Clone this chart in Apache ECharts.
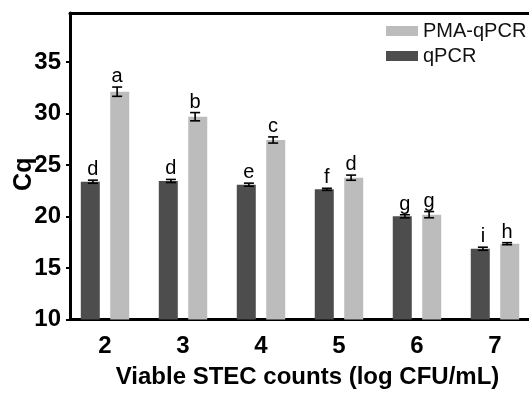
<!DOCTYPE html>
<html>
<head>
<meta charset="utf-8">
<script src="https://cdn.jsdelivr.net/npm/echarts@6/dist/echarts.min.js"></script>
<style>html,body{margin:0;padding:0;background:#fff;}#c{width:529px;height:394px;}</style>
</head>
<body>
<div id="c"></div>
<script>
const categories = [2, 3, 4, 5, 6, 7];
const qpcr = [23.38, 23.45, 23.09, 22.64, 20.02, 16.87];
const qpcrSD = [0.15, 0.15, 0.15, 0.1, 0.15, 0.15];
const qpcrLetters = ['d', 'd', 'e', 'f', 'g', 'i'];
const pma = [32.12, 29.69, 27.43, 23.77, 20.18, 17.36];
const pmaSD = [0.45, 0.4, 0.3, 0.25, 0.3, 0.1];
const pmaLetters = ['a', 'b', 'c', 'd', 'g', 'h'];
const yTicks = [10, 15, 20, 25, 30, 35];

const FONT = 'Liberation Sans, Arial, sans-serif';
const BAR_W = 19;
const BAR_GAP = '55%';
const HALF_PAIR = (BAR_W * 2 + BAR_W * 0.55) / 4;

function errSeries(name, vals, sds, letters, dx) {
  return {
    type: 'custom',
    name: name,
    z: 5,
    data: categories.map((c, i) => [c, vals[i], sds[i]]),
    encode: { x: 0, y: 1 },
    renderItem: function (params, api) {
      const x = api.value(0), m = api.value(1), s = api.value(2);
      const t = api.coord([x, m + s]);
      const b = api.coord([x, m - s]);
      const cx = t[0] + dx;
      const hw = 5;
      const st = { stroke: '#000', lineWidth: 1.6 };
      return {
        type: 'group',
        children: [
          { type: 'line', shape: { x1: cx, y1: t[1], x2: cx, y2: b[1] }, style: st },
          { type: 'line', shape: { x1: cx - hw, y1: t[1], x2: cx + hw, y2: t[1] }, style: st },
          { type: 'line', shape: { x1: cx - hw, y1: b[1], x2: cx + hw, y2: b[1] }, style: st },
          { type: 'text', x: cx, y: t[1] - 0.5, style: { text: letters[params.dataIndex], fill: '#000', font: '20px ' + FONT, align: 'center', verticalAlign: 'bottom' } }
        ]
      };
    }
  };
}

const chart = echarts.init(document.getElementById('c'));
chart.setOption({
  animation: false,
  backgroundColor: '#fff',
  grid: { left: 70, right: 0, top: 13, bottom: 74.5, containLabel: false, outerBoundsMode: 'none' },
  legend: {
    data: ['PMA-qPCR', 'qPCR'],
    orient: 'vertical',
    left: 381,
    top: 16,
    icon: 'rect',
    itemWidth: 32,
    itemHeight: 10,
    itemGap: 5,
    textStyle: { fontFamily: FONT, fontSize: 20, color: '#111' }
  },
  xAxis: [{
    type: 'value',
    min: 1.551,
    max: 7.436,
    interval: 1,
    name: 'Viable STEC counts (log CFU/mL)',
    nameLocation: 'middle',
    nameGap: 46,
    nameMoveOverlap: false,
    nameTextStyle: { fontFamily: FONT, fontSize: 24, fontWeight: 'bold', color: '#000', padding: [0, 0, 0, 16] },
    axisLine: { lineStyle: { color: '#000', width: 3 } },
    axisTick: { show: false },
    splitLine: { show: false },
    axisLabel: { customValues: categories, fontFamily: FONT, fontSize: 24, fontWeight: 'bold', color: '#000', margin: 15 }
  }, {
    type: 'value',
    position: 'top',
    min: 1.551,
    max: 7.436,
    axisLine: { show: true, lineStyle: { color: '#000', width: 3 } },
    axisTick: { show: false },
    axisLabel: { show: false },
    splitLine: { show: false }
  }],
  yAxis: {
    type: 'value',
    min: 10,
    max: 39.76,
    interval: 5,
    name: 'Cq',
    nameLocation: 'middle',
    nameGap: 33,
    nameMoveOverlap: false,
    nameTextStyle: { fontFamily: FONT, fontSize: 25, fontWeight: 'bold', color: '#000', padding: [0, 16, 0, 0] },
    axisLine: { show: true, lineStyle: { color: '#000', width: 3 } },
    axisTick: { show: true, customValues: yTicks, length: 4, lineStyle: { color: '#000', width: 2 } },
    axisLabel: { customValues: yTicks, fontFamily: FONT, fontSize: 24, fontWeight: 'bold', color: '#000', margin: 9 },
    splitLine: { show: false }
  },
  series: [
    {
      type: 'bar', name: 'qPCR', barWidth: BAR_W, barGap: BAR_GAP,
      itemStyle: { color: '#4d4d4d' },
      data: categories.map((c, i) => [c, qpcr[i]])
    },
    {
      type: 'bar', name: 'PMA-qPCR', barWidth: BAR_W, barGap: BAR_GAP,
      itemStyle: { color: '#bcbcbc' },
      data: categories.map((c, i) => [c, pma[i]])
    },
    errSeries('qPCR-err', qpcr, qpcrSD, qpcrLetters, -HALF_PAIR),
    errSeries('PMA-err', pma, pmaSD, pmaLetters, HALF_PAIR)
  ]
});
</script>
</body>
</html>
